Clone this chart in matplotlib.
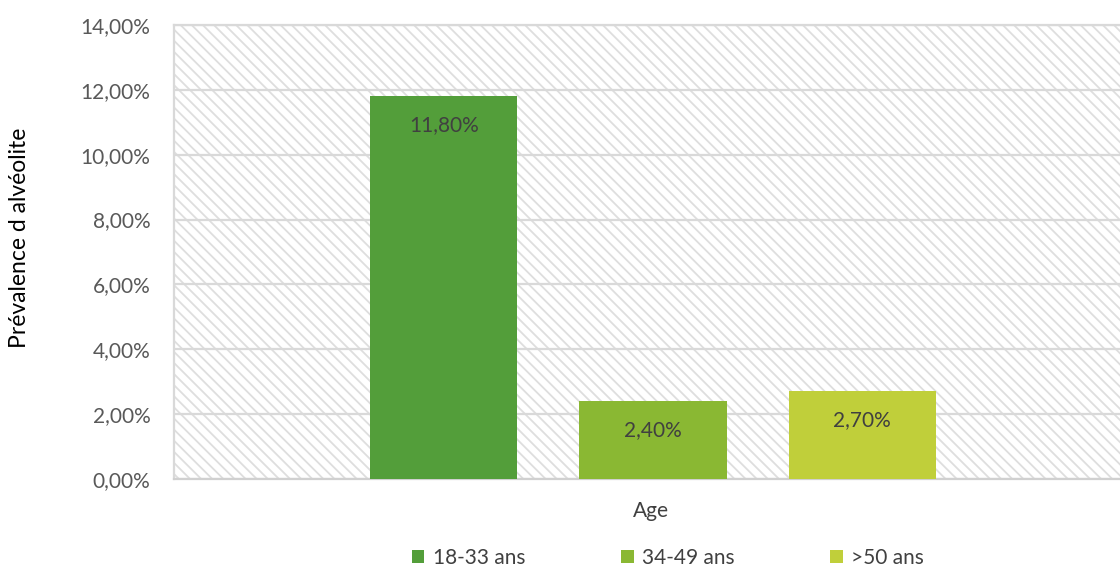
import matplotlib
matplotlib.use("Agg")
import matplotlib.pyplot as plt
from matplotlib.patches import Patch
import matplotlib as mpl

categories = ["18-33 ans", "34-49 ans", ">50 ans"]
values = [11.80, 2.40, 2.70]
labels = ["11,80%", "2,40%", "2,70%"]
colors = ["#539E3A", "#8AB833", "#C0CF3A"]
yticks = [0, 2, 4, 6, 8, 10, 12, 14]
ytick_labels = ["0,00%", "2,00%", "4,00%", "6,00%", "8,00%", "10,00%", "12,00%", "14,00%"]

mpl.rcParams['font.family'] = ['Lato', 'DejaVu Sans']
mpl.rcParams['hatch.color'] = '#dedede'
mpl.rcParams['hatch.linewidth'] = 1.3

FS = 15
W, H = 1120, 568
fig = plt.figure(figsize=(W/100, H/100), dpi=100)
left, right, top, bottom = 174, 1132, 25, 479
ax = fig.add_axes([left/W, 1-bottom/H, (right-left)/W, (bottom-top)/H])

ax.patch.set_facecolor('white')
ax.patch.set_hatch('\\\\\\')
ax.patch.set_edgecolor('#dedede')

xs = [-1, 0, 1]
ax.bar(xs, values, width=0.703, color=colors, zorder=3)
for x, v, l in zip(xs, values, labels):
    ax.annotate(l, (x, v), xytext=(0, -20.5), textcoords='offset points',
                ha='center', va='center', fontsize=FS, color='#404040', zorder=4)

ax.set_xlim(-2.29, 2.29)
ax.set_ylim(0, 14)
ax.set_yticks(yticks)
ax.set_yticklabels(ytick_labels, fontsize=FS, color='#595959')
ax.set_xticks([])
ax.tick_params(axis='y', length=0, pad=17)
ax.yaxis.grid(True, color='#d9d9d9', linewidth=1.6, zorder=1)
ax.set_axisbelow(True)
for s in ['top', 'left', 'right']:
    ax.spines[s].set_color('#d9d9d9')
    ax.spines[s].set_linewidth(1.6)
ax.spines['bottom'].set_color('#d0d0d0')
ax.spines['bottom'].set_linewidth(1.6)

fig.text(651/W, 1-511/H, "Age", ha='center', va='center', fontsize=FS, color='#404040')
fig.text(20/W, 1-238/H, "Prévalence d alvéolite", ha='center', va='center',
         rotation=90, fontsize=FS+1.5, color='#000000')

handles = [Patch(facecolor=c, edgecolor='none') for c in colors]
fig.legend(handles, categories, loc='center', bbox_to_anchor=(668/W, 1-558/H),
           ncol=3, frameon=False, fontsize=FS, handlelength=0.6, handleheight=0.6,
           handletextpad=0.4, columnspacing=4.6, labelcolor='#404040')

fig.savefig("out.png", dpi=100)
